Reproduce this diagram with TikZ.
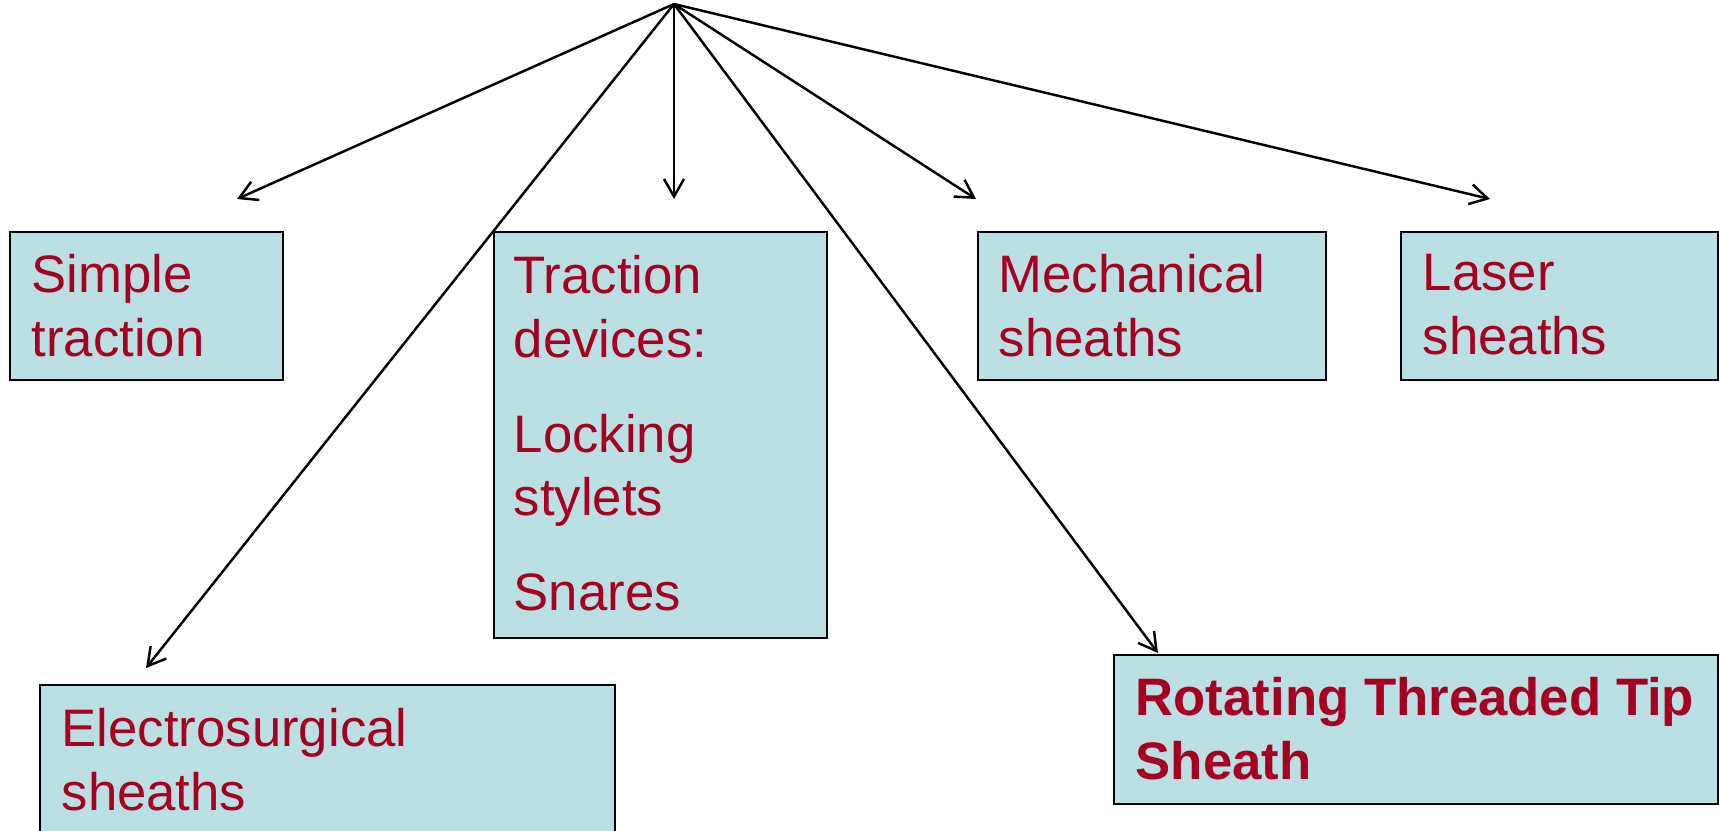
\documentclass[tikz,border=0pt]{standalone}
\usepackage{fontspec}
\setmainfont{Liberation Sans}
\usetikzlibrary{calc, arrows.meta}

\definecolor{boxfill}{HTML}{BBE0E3}
\definecolor{boxtext}{HTML}{A50021}

\begin{document}
\begin{tikzpicture}
    \tikzstyle{category} = [rectangle, draw=black, line width=.7pt,
        fill=boxfill, anchor=north west, inner sep=0pt]
    \tikzstyle{caption} = [anchor=north west, inner sep=0pt, text=boxtext,
        align=left, font=\fontsize{15}{18}\selectfont]
    \tikzstyle{branch} = [line width=.7pt,
        -{Straight Barb[length=5pt, width=5.7pt]}]

    \useasboundingbox (0, 0) rectangle (17.19, -8.30);

    % Root ----------------------------------------------
    \coordinate (root) at (6.74, -.04);

    % Boxes ---------------------------------------------
    \node (simple) at (.09, -2.31) [category, minimum width=2.73cm, minimum height=1.48cm] {};
    \node (traction) at (4.93, -2.31) [category, minimum width=3.33cm, minimum height=4.06cm] {};
    \node (mech) at (9.77, -2.31) [category, minimum width=3.48cm, minimum height=1.48cm] {};
    \node (laser) at (14.00, -2.31) [category, minimum width=3.17cm, minimum height=1.48cm] {};
    \node (electro) at (.39, -6.84) [category, minimum width=5.75cm, minimum height=2.00cm] {};
    \node (rotating) at (11.13, -6.54) [category, minimum width=6.04cm, minimum height=1.49cm] {};

    % Texts ---------------------------------------------
    \node (simple_text) at ($(simple.north west) + (.22, -.23)$) [caption] {Simple\\traction};
    \node (traction_text) at ($(traction.north west) + (.20, -.24)$) [caption]
        {Traction\\devices:\\[9pt]Locking\\stylets\\[9pt]Snares};
    \node (mech_text) at ($(mech.north west) + (.21, -.23)$) [caption] {Mechanical\\sheaths};
    \node (laser_text) at ($(laser.north west) + (.22, -.23)$) [caption] {Laser\\sheaths};
    \node (electro_text) at ($(electro.north west) + (.22, -.24)$) [caption] {Electrosurgical\\sheaths};
    \node (rotating_text) at ($(rotating.north west) + (.22, -.23)$) [caption,
        font=\fontsize{15}{18}\selectfont\bfseries] {Rotating Threaded Tip\\Sheath};

    % Arrow ends ----------------------------------------
    \coordinate (to_simple) at (2.37, -1.99);
    \coordinate (to_electro) at (1.46, -6.68);
    \coordinate (to_traction) at (6.74, -1.99);
    \coordinate (to_rotating) at (11.58, -6.53);
    \coordinate (to_mech) at (9.76, -1.99);
    \coordinate (to_laser) at (14.90, -1.99);

    \draw [branch] (root) -- (to_simple);
    \draw [branch] (root) -- (to_electro);
    \draw [branch] (root) -- (to_traction);
    \draw [branch] (root) -- (to_rotating);
    \draw [branch] (root) -- (to_mech);
    \draw [branch] (root) -- (to_laser);
\end{tikzpicture}
\end{document}
